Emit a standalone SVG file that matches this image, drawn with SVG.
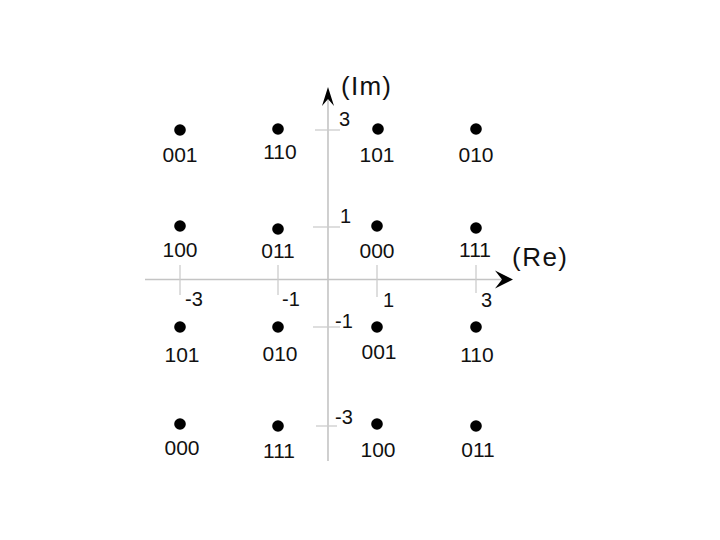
<svg xmlns="http://www.w3.org/2000/svg" width="720" height="540" viewBox="0 0 720 540">
<style>
.ax{stroke:#c4c4c4;stroke-width:1.6;fill:none}
.tk{stroke:#cccccc;stroke-width:1.3;fill:none}
.arr{fill:#000}
.dot{fill:#000}
.lb{font-family:"Liberation Sans",Arial,sans-serif;font-size:21px;fill:#111;text-anchor:middle}
.num{font-family:"Liberation Sans",Arial,sans-serif;font-size:20px;fill:#111}
.axl{font-family:"Liberation Sans",Arial,sans-serif;font-size:26px;fill:#111}
</style>
<rect width="720" height="540" fill="#fff"/>
<g id="connectors">
<line class="ax" x1="328" y1="92" x2="328" y2="461"/>
<line class="ax" x1="145" y1="279.5" x2="508" y2="279.5"/>
<line class="tk" x1="315" y1="130" x2="340" y2="130"/>
<line class="tk" x1="313" y1="227" x2="340" y2="227"/>
<line class="tk" x1="313" y1="327" x2="340" y2="327"/>
<line class="tk" x1="316" y1="426" x2="337" y2="426"/>
<line class="tk" x1="180" y1="265" x2="180" y2="295"/>
<line class="tk" x1="278" y1="265" x2="278" y2="295"/>
<line class="tk" x1="377" y1="265" x2="377" y2="297"/>
<line class="tk" x1="476" y1="265" x2="476" y2="293"/>
<path class="arr" d="M513,279.5 L495,270.5 L502,279.5 L495,288.5 Z"/>
<path class="arr" d="M328,87 L322,106 L328,99 L334,106 Z"/>
</g>
<g id="axis-labels">
<text class="axl" x="341" y="95" textLength="50">(Im)</text>
<text class="axl" x="512" y="266" textLength="55">(Re)</text>
<text class="num" x="339" y="126">3</text>
<text class="num" x="340" y="223">1</text>
<text class="num" x="335" y="328">-1</text>
<text class="num" x="335" y="424">-3</text>
<text class="num" x="185" y="306">-3</text>
<text class="num" x="282" y="306">-1</text>
<text class="num" x="383" y="307">1</text>
<text class="num" x="481" y="307">3</text>
</g>
<g id="p1"><circle class="dot" cx="180" cy="130" r="5.8"/><text class="lb" x="180" y="162">001</text></g>
<g id="p2"><circle class="dot" cx="278" cy="129" r="5.8"/><text class="lb" x="280" y="159">110</text></g>
<g id="p3"><circle class="dot" cx="378" cy="129" r="5.8"/><text class="lb" x="377" y="162">101</text></g>
<g id="p4"><circle class="dot" cx="476" cy="129" r="5.8"/><text class="lb" x="476" y="162">010</text></g>
<g id="p5"><circle class="dot" cx="180" cy="226" r="5.8"/><text class="lb" x="180" y="257">100</text></g>
<g id="p6"><circle class="dot" cx="278" cy="229" r="5.8"/><text class="lb" x="278" y="258">011</text></g>
<g id="p7"><circle class="dot" cx="377" cy="226" r="5.8"/><text class="lb" x="377" y="258">000</text></g>
<g id="p8"><circle class="dot" cx="476" cy="228" r="5.8"/><text class="lb" x="475" y="257">111</text></g>
<g id="p9"><circle class="dot" cx="180" cy="327" r="5.8"/><text class="lb" x="182" y="362">101</text></g>
<g id="p10"><circle class="dot" cx="278" cy="327" r="5.8"/><text class="lb" x="280" y="361">010</text></g>
<g id="p11"><circle class="dot" cx="377" cy="327" r="5.8"/><text class="lb" x="379" y="359">001</text></g>
<g id="p12"><circle class="dot" cx="476" cy="327" r="5.8"/><text class="lb" x="477" y="362">110</text></g>
<g id="p13"><circle class="dot" cx="180" cy="424" r="5.8"/><text class="lb" x="182" y="455">000</text></g>
<g id="p14"><circle class="dot" cx="278" cy="426" r="5.8"/><text class="lb" x="279" y="458">111</text></g>
<g id="p15"><circle class="dot" cx="377" cy="424" r="5.8"/><text class="lb" x="378" y="457">100</text></g>
<g id="p16"><circle class="dot" cx="476" cy="426" r="5.8"/><text class="lb" x="478" y="457">011</text></g>
</svg>
